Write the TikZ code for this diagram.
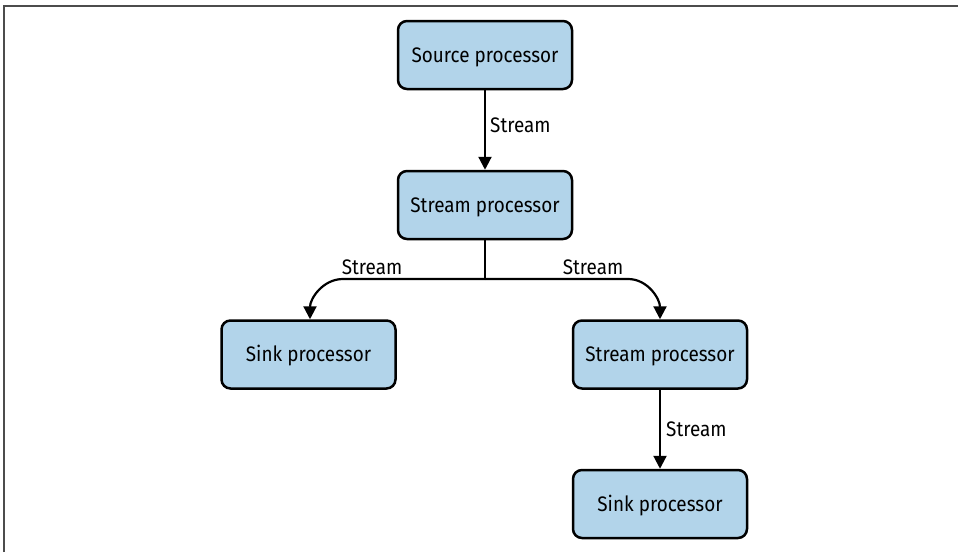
\documentclass[tikz,border=0pt]{standalone}
\usepackage{fontspec}
\setmainfont{Fira Sans}[FakeStretch=0.9]
\usetikzlibrary{arrows.meta}
\definecolor{boxblue}{RGB}{178,212,234}
\begin{document}
\begin{tikzpicture}[x=1pt,y=-1pt,
  proc/.style={draw=black, line width=2.5pt, rounded corners=9pt, fill=boxblue,
    minimum width=174pt, minimum height=68pt, inner sep=0pt,
    text height=14.5pt, text depth=0pt,
    font=\fontsize{21}{24}\selectfont},
  conn/.style={line width=2.2pt, -{Triangle[length=13pt,width=13pt]}},
  stem/.style={line width=2.2pt},
  lbl/.style={font=\fontsize{21}{24}\selectfont, inner sep=0pt,
    text height=14.5pt, text depth=0pt},
  frame/.style={line width=2pt, draw=black!70}]
\useasboundingbox (0,0) rectangle (958,552);
\draw[frame] (4,552) -- (4,5.5) -- (958,5.5);

\node[proc] (src) at (485,55) {Source processor};
\node[proc] (sp1) at (485,205) {Stream processor};
\node[proc] (sink1) at (308.5,354.5) {Sink processor};
\node[proc] (sp2) at (660,354.5) {Stream processor};
\node[proc] (sink2) at (660,504) {Sink processor};

\coordinate (j) at (485,279);
\coordinate (jl) at (343,279);
\coordinate (jr) at (628,279);

\draw[conn] (src) -- (sp1);
\draw[stem] (sp1.south) -- (j);
\draw[conn] (j) -- (jl) to[out=180,in=90] ([xshift=1.5pt]sink1.north);
\draw[conn] (j) -- (jr) to[out=0,in=90] (sp2.north);
\draw[conn] (sp2) -- (sink2);

\node[lbl, anchor=west] (l1) at (490,125) {Stream};
\node[lbl] (l2) at (372,267) {Stream};
\node[lbl] (l3) at (593,267) {Stream};
\node[lbl, anchor=west] (l4) at (666,429) {Stream};
\end{tikzpicture}
\end{document}
